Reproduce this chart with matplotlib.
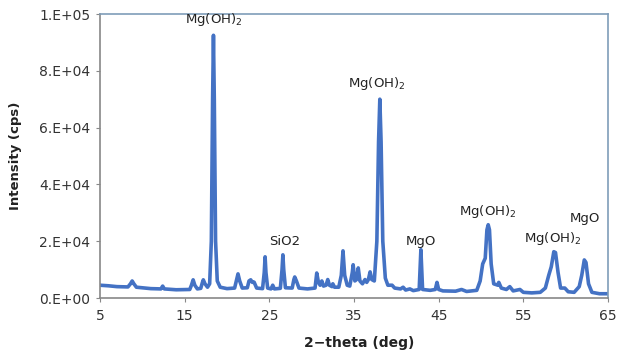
import matplotlib
matplotlib.use("Agg")
import matplotlib.pyplot as plt

# 2-theta (deg) and intensity (cps)
two_theta = [5.0, 6.0, 7.0, 8.3, 8.6, 8.8, 9.0, 9.3, 11.0, 12.2, 12.4, 12.6,
             14.0, 15.6, 15.8, 16.0, 16.2, 16.5, 16.9, 17.1, 17.2, 17.4, 17.7,
             17.95, 18.15, 18.3, 18.4, 18.5, 18.65, 18.85, 19.2, 20.0, 20.9,
             21.1, 21.3, 21.5, 21.8, 22.4, 22.6, 22.8, 23.0, 23.2, 23.5, 24.2,
             24.4, 24.5, 24.6, 24.8, 25.2, 25.4, 25.6, 26.3, 26.5, 26.6, 26.7,
             26.9, 27.7, 27.9, 28.0, 28.2, 28.5, 29.5, 30.4, 30.6, 30.8, 31.0,
             31.2, 31.4, 31.7, 31.9, 32.1, 32.4, 32.5, 32.7, 33.2, 33.5, 33.7,
             33.9, 34.2, 34.5, 34.8, 34.9, 35.1, 35.3, 35.5, 35.7, 36.0, 36.3,
             36.5, 36.7, 36.9, 37.1, 37.4, 37.7, 37.9, 38.05, 38.2, 38.4, 38.7,
             39.0, 39.5, 39.8, 40.5, 40.8, 41.1, 41.6, 42.0, 42.7, 42.8, 42.9,
             43.0, 43.1, 44.0, 44.6, 44.8, 45.0, 45.5, 47.0, 47.7, 48.3, 49.5,
             49.9, 50.2, 50.5, 50.7, 50.85, 51.0, 51.2, 51.5, 52.0, 52.1, 52.4,
             53.0, 53.4, 53.8, 54.6, 55.0, 56.0, 57.0, 57.6, 58.0, 58.3, 58.6,
             58.8, 59.1, 59.4, 59.9, 60.3, 61.0, 61.6, 61.9, 62.2, 62.4, 62.7,
             63.1, 64.0, 65.0]
intensity = [4500, 4300, 4000, 3900, 5000, 6000, 5000, 3800, 3300, 3200, 4200, 3200,
             2900, 3000, 4500, 6400, 4500, 3200, 3400, 5500, 6400, 5000, 3800,
             5000, 20000, 70000, 92500, 70000, 20000, 6000, 3800, 3300, 3500,
             6000, 8500, 6000, 3500, 3600, 6000, 6400, 5500, 5600, 3500, 3300,
             9000, 14500, 9000, 3500, 3200, 4500, 3200, 3400, 10000, 15200, 10000,
             3600, 3500, 6500, 7400, 6000, 3500, 3200, 3500, 8800, 5500, 4500,
             6000, 4200, 4500, 6500, 4500, 4000, 5000, 3800, 3800, 8000, 16600,
             8000, 4500, 4200, 9000, 11700, 6000, 6500, 10600, 6000, 5000, 6500,
             5500, 6500, 9200, 6500, 6000, 20000, 55000, 70000, 55000, 20000, 7000,
             4500, 4500, 3500, 3200, 3800, 2800, 3200, 2600, 3000, 10000, 17000,
             10000, 3000, 2700, 3000, 5500, 3000, 2500, 2400, 3000, 2300, 2700,
             6000, 12000, 14000, 24000, 25800, 24000, 12000, 5000, 4500, 5500, 3500,
             3000, 4000, 2500, 3000, 2000, 1800, 2000, 3500, 8000, 11000, 16300,
             16000, 9000, 3500, 3500, 2200, 2000, 4000, 8000, 13400, 12500, 5000,
             2000, 1500, 1500]

# peak labels: text, 2-theta, intensity
peak_labels = ["Mg(OH)$_2$", "Mg(OH)$_2$", "SiO2", "MgO", "Mg(OH)$_2$", "Mg(OH)$_2$", "MgO"]
label_x = [18.4, 37.7, 26.8, 42.9, 50.8, 58.5, 62.3]
label_y = [98000, 75500, 20000, 20000, 30500, 21000, 28000]

x_ticks = [5, 15, 25, 35, 45, 55, 65]
y_ticks = [0, 20000, 40000, 60000, 80000, 100000]
y_tick_labels = ["0.E+00", "2.E+04", "4.E+04", "6.E+04", "8.E+04", "1.E+05"]

fig = plt.figure(figsize=(6.28, 3.51), dpi=100)
ax = fig.add_axes([100 / 628, 1 - 298 / 351, 508 / 628, 284 / 351])

ax.plot(two_theta, intensity, color="#4472C4", linewidth=2.6, solid_joinstyle="round")

for txt, xx, yy in zip(peak_labels, label_x, label_y):
    ax.text(xx, yy, txt, ha="center", va="center", fontsize=9.5, color="#222222")

ax.set_xlim(5, 65)
ax.set_ylim(0, 100000)
ax.set_xticks(x_ticks)
ax.set_yticks(y_ticks)
ax.set_yticklabels(y_tick_labels)
ax.tick_params(axis="both", labelsize=10, length=3, width=0.8, pad=4)
ax.tick_params(axis="x", colors="#888888", labelcolor="#333333", pad=5)
ax.tick_params(axis="y", colors="#888888", labelcolor="#333333")

for side in ["left", "bottom"]:
    ax.spines[side].set_color("#888888")
    ax.spines[side].set_linewidth(1.2)
for side in ["top", "right"]:
    ax.spines[side].set_color("#7F9DB9")
    ax.spines[side].set_linewidth(1.2)

ax.set_ylabel("Intensity (cps)", fontsize=9.5, fontweight="bold", color="#222222")
ax.yaxis.set_label_coords(-0.154, 0.5)
ax.set_xlabel("2\u2212theta (deg)", fontsize=10, fontweight="bold", color="#222222")
ax.xaxis.set_label_coords(0.51, -0.135)

fig.savefig("out.png", dpi=100)
